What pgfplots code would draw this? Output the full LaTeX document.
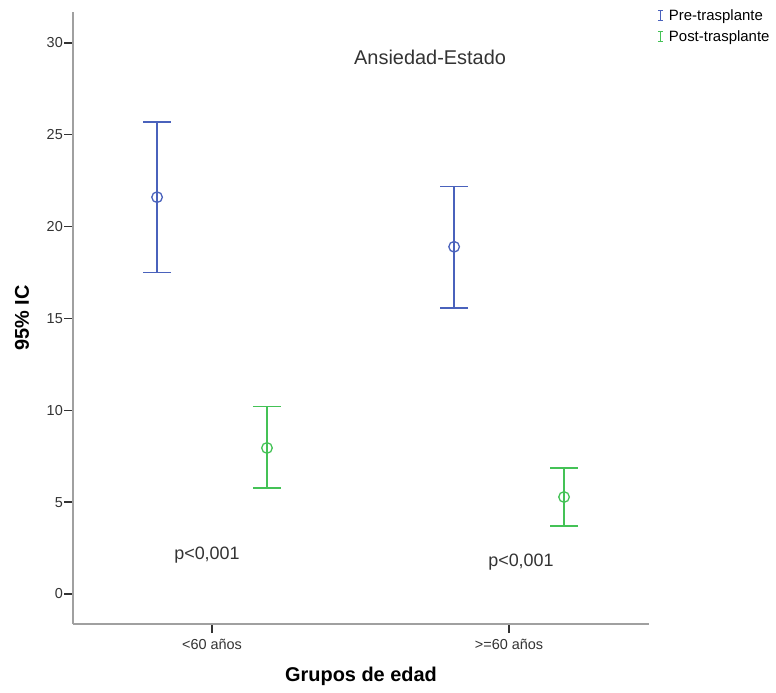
\documentclass[border=0pt]{standalone}
\usepackage{pgfplots}
\pgfplotsset{compat=1.18}
\usepackage{fontspec}
\setmainfont{Liberation Sans}
\definecolor{spssblue}{HTML}{4A62BC}
\definecolor{spssgreen}{HTML}{44C256}
\definecolor{axgray}{HTML}{A0A0A0}
\definecolor{txtgray}{HTML}{333333}
\pgfplotstableread{
x y ep em
-0.185 21.6 4.1 4.1
0.815 18.9 3.3 3.33
}\pretab
\pgfplotstableread{
x y ep em
0.185 7.95 2.25 2.18
1.185 5.28 1.58 1.58
}\posttab
\begin{document}
\begin{tikzpicture}
\path[use as bounding box] (-73bp,-69bp) rectangle (703bp,624bp);
\begin{axis}[
 name=ax, at={(0,0)}, anchor=south west,
 scale only axis, width=576bp, height=612bp,
 xmin=-0.468, xmax=1.471, ymin=-1.633, ymax=31.68,
 axis x line*=bottom, axis y line*=left,
 axis line style={axgray, line width=1.5bp, -},
 xtick={0,1}, xticklabels={{<60 años},{>=60 años}},
 ytick={0,5,...,30},
 tick align=outside, major tick length=9bp,
 tick style={txtgray, line width=1.5bp},
 minor tick num=0,
 ticklabel style={font=\fontsize{14.5}{16}\selectfont, text=txtgray},
 yticklabel style={inner sep=1bp},
 xticklabel style={yshift=-3bp},
 /pgf/number format/assume math mode=true,
 xlabel={Grupos de edad}, ylabel={95\% IC},
 label style={font=\bfseries\fontsize{20}{22}\selectfont},
 xlabel style={at={(axis description cs:0.5,-0.085)}, anchor=center},
 ylabel style={at={(axis description cs:-0.0885,0.5)}, anchor=center},
 clip=false,
 legend style={at={(1.013,1.008)}, anchor=north west, draw=none, fill=none,
   inner sep=0pt, row sep=5bp, font=\fontsize{15}{16}\selectfont,
   cells={anchor=west}},
]
\addplot[spssblue, only marks, mark=o, mark size=5.3bp, line width=1.3bp,
  legend image code/.code={\draw[spssblue,line width=1.1bp] (3bp,-5bp)--(3bp,5bp) (0.5bp,-5bp)--(5.5bp,-5bp) (0.5bp,5bp)--(5.5bp,5bp); \path (0bp,0bp) (9bp,0bp);},
  error bars/.cd, y dir=both, y explicit,
  error bar style={line width=1.3bp, spssblue},
  error mark options={spssblue, line width=1.3bp, mark size=14bp, rotate=90}]
  table[x=x, y=y, y error plus=ep, y error minus=em] {\pretab};
\addlegendentry{Pre-trasplante}
\addplot[spssgreen, only marks, mark=o, mark size=5.3bp, line width=1.3bp,
  legend image code/.code={\draw[spssgreen,line width=1.1bp] (3bp,-5bp)--(3bp,5bp) (0.5bp,-5bp)--(5.5bp,-5bp) (0.5bp,5bp)--(5.5bp,5bp); \path (0bp,0bp) (9bp,0bp);},
  error bars/.cd, y dir=both, y explicit,
  error bar style={line width=1.3bp, spssgreen},
  error mark options={spssgreen, line width=1.3bp, mark size=14bp, rotate=90}]
  table[x=x, y=y, y error plus=ep, y error minus=em] {\posttab};
\addlegendentry{Post-trasplante}
\node[font=\fontsize{20}{22}\selectfont, text=txtgray] at (axis cs:0.734,29.23) {Ansiedad-Estado};
\node[font=\fontsize{18}{20}\selectfont, text=txtgray] at (axis cs:-0.017,2.12) {p<0,001};
\node[font=\fontsize{18}{20}\selectfont, text=txtgray] at (axis cs:1.04,1.74) {p<0,001};
\end{axis}
\end{tikzpicture}
\end{document}
